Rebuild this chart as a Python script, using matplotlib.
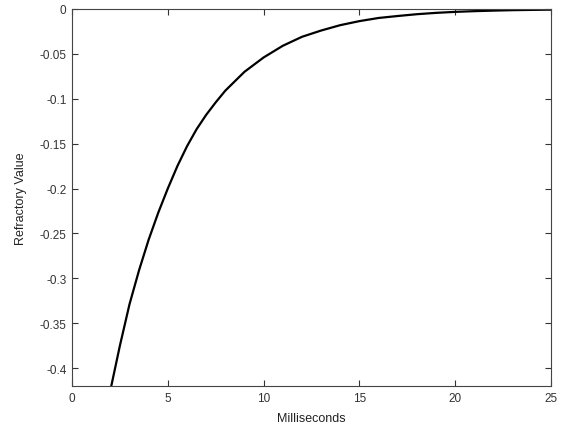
import matplotlib
matplotlib.use("Agg")
import matplotlib.pyplot as plt

plt.rcParams['font.family'] = ['Liberation Sans', 'DejaVu Sans']

ms = [2, 2.5, 3, 3.5, 4, 4.5, 5, 5.5, 6, 6.5, 7, 7.5, 8, 9, 10, 11, 12, 13, 14,
      15, 16, 17, 18, 19, 20, 21, 22, 23, 24, 25]
refractory = [-0.425, -0.375, -0.329, -0.291, -0.257, -0.227, -0.200, -0.175,
              -0.153, -0.134, -0.118, -0.104, -0.091, -0.070, -0.054, -0.041,
              -0.031, -0.024, -0.018, -0.0135, -0.010, -0.0078, -0.0058,
              -0.0043, -0.0032, -0.0024, -0.0018, -0.0013, -0.0010, -0.0007]
xticks = [0, 5, 10, 15, 20, 25]
yticks = [0, -0.05, -0.1, -0.15, -0.2, -0.25, -0.3, -0.35, -0.4]
ytick_labels = ['0', '-0.05', '-0.1', '-0.15', '-0.2', '-0.25', '-0.3', '-0.35', '-0.4']

fig = plt.figure(figsize=(5.63, 4.31), dpi=100)
ax = fig.add_axes([0.1279, 0.1021, 0.9787 - 0.1279, 0.9768 - 0.1021])
ax.plot(ms, refractory, color='black', linewidth=1.6)
ax.set_xlim(0, 25)
ax.set_ylim(-0.42, 0)
ax.set_xticks(xticks)
ax.set_xticklabels([str(t) for t in xticks])
ax.set_yticks(yticks)
ax.set_yticklabels(ytick_labels)
ax.tick_params(direction='in', length=4, width=0.8, top=True, right=True,
               labelsize=8.5, colors='#333333', pad=4)
for s in ax.spines.values():
    s.set_color('#444444')
    s.set_linewidth(0.8)
ax.set_xlabel('Milliseconds', fontsize=9, color='#222222', labelpad=6)
ax.set_ylabel('Refractory Value', fontsize=9, color='#222222', labelpad=9)
fig.savefig('out.png', dpi=100)
